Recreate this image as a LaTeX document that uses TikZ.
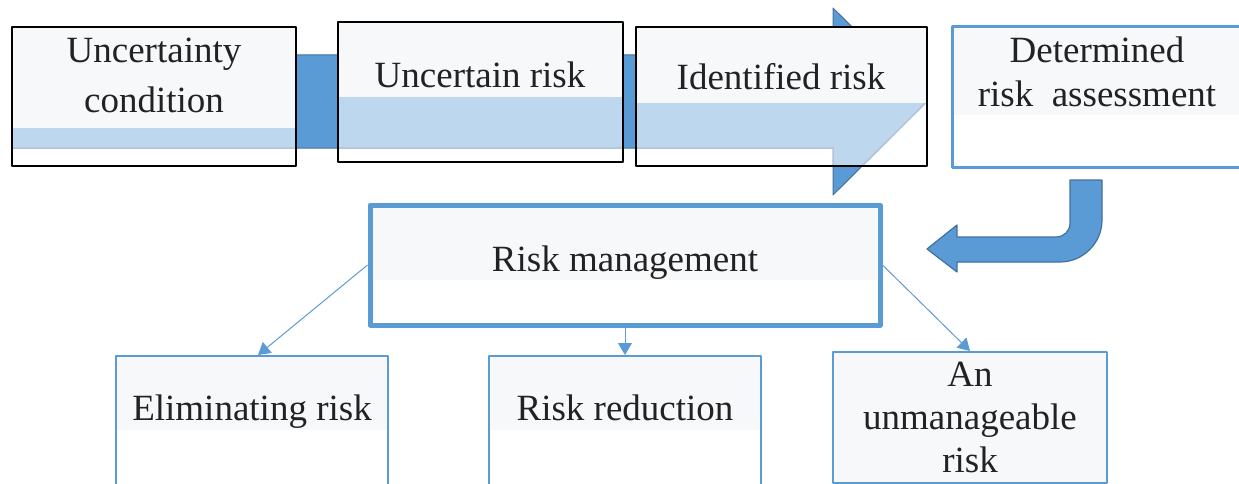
\documentclass[tikz,border=0pt]{standalone}
\usepackage{fontspec}
\setmainfont{Liberation Serif}
\usetikzlibrary{arrows.meta,positioning}
\definecolor{arrowblue}{HTML}{5B9BD5}
\definecolor{arrowedge}{HTML}{41719C}
\definecolor{bandblue}{HTML}{BDD7EE}
\definecolor{bandedge}{HTML}{B3C2D4}
\definecolor{paper}{HTML}{F7F8FA}
\definecolor{ink}{HTML}{222222}
\tikzset{
  stage/.style={draw=black, line width=2pt, inner sep=0pt},
  outcome/.style={draw=arrowblue, line width=2pt, inner sep=0pt, minimum width=272pt},
  label/.style={text=ink, inner sep=0pt, anchor=base, align=center, font=\fontsize{37}{44}\selectfont},
  link/.style={draw=arrowblue, line width=1pt, -{Triangle[width=14pt,length=12pt]}}
}
\begin{document}
\begin{tikzpicture}[x=1pt,y=-1pt, line join=round]
\useasboundingbox (0,0) rectangle (1239,484);
\def\arrowpath{(12,55) -- (833,55) -- (833,8) -- (927,101.5) -- (833,195) -- (833,148) -- (12,148) -- cycle}
\fill[arrowblue, draw=arrowedge, line width=1pt] \arrowpath;
\foreach \xa/\xb/\ya/\yb/\ys in {12/296/27/166/128, 338/623/22/162/97, 636/927/27/166/103}{
  \fill[white] (\xa,\ya) rectangle (\xb,\yb);
  \begin{scope}
    \clip (\xa,\ya) rectangle (\xb,\yb);
    \fill[bandblue, draw=bandedge, line width=1.5pt] \arrowpath;
  \end{scope}
  \fill[paper] (\xa,\ya) rectangle (\xb,\ys);
}
\fill[paper] (952,27) rectangle (1242,115);
\fill[paper] (370,205) rectangle (880,280);
\fill[paper] (116,356) rectangle (388,430);
\fill[paper] (489,356) rectangle (761,430);
\fill[paper] (833,352) rectangle (1107,483);
\node[stage, minimum width=284pt, minimum height=139pt] (cond) at (154,96.5) {};
\node[stage, minimum width=285pt, minimum height=140pt] (uncert) at (480.5,92) {};
\node[stage, minimum width=291pt, minimum height=139pt] (ident) at (781.5,96.5) {};
\node[draw=arrowblue, line width=3pt, inner sep=0pt, minimum width=290pt, minimum height=140pt] (assess) at (1097,97) {};
\node[draw=arrowblue, line width=5pt, inner sep=0pt, minimum width=510pt, minimum height=120pt] (mgmt) at (625,265) {};
\node[outcome, minimum height=140pt] (elim) at (252,426) {};
\node[outcome, minimum height=140pt] (reduce) at (625,426) {};
\node[outcome, minimum width=274pt, minimum height=131pt] (unman) at (970,417.5) {};
\node[label, font=\fontsize{37}{50}\selectfont] (condtxt) at (154,113) {Uncertainty\\condition};
\node[label] (uncerttxt) at (480,88) {Uncertain risk};
\node[label] (identtxt) at (781,90) {Identified risk};
\node[label] (assesstxt) at (1097,107) {Determined\\risk\ \ assessment};
\node[label] (mgmttxt) at (625,271) {Risk management};
\node[label] (elimtxt) at (252,420) {Eliminating risk};
\node[label] (reducetxt) at (625,420) {Risk reduction};
\node[label, font=\fontsize{37}{43}\selectfont] (unmantxt) at (970,472) {An\\unmanageable\\risk};
\draw[link] (mgmt.west) -- ([xshift=6pt]elim.north);
\draw[link] (mgmt.south) -- (reduce.north);
\draw[link] (mgmt.east) -- (unman.north);
\fill[arrowblue, draw=arrowedge, line width=1.2pt] (1070,180) -- (1102,180) -- (1102,220)
  .. controls (1102,243) and (1083,262) .. (1060,262) -- (957,262) -- (957,272) -- (927,249)
  -- (957,225) -- (957,237) -- (1056,237) .. controls (1064,237) and (1070,231) .. (1070,223) -- cycle;
\end{tikzpicture}
\end{document}
